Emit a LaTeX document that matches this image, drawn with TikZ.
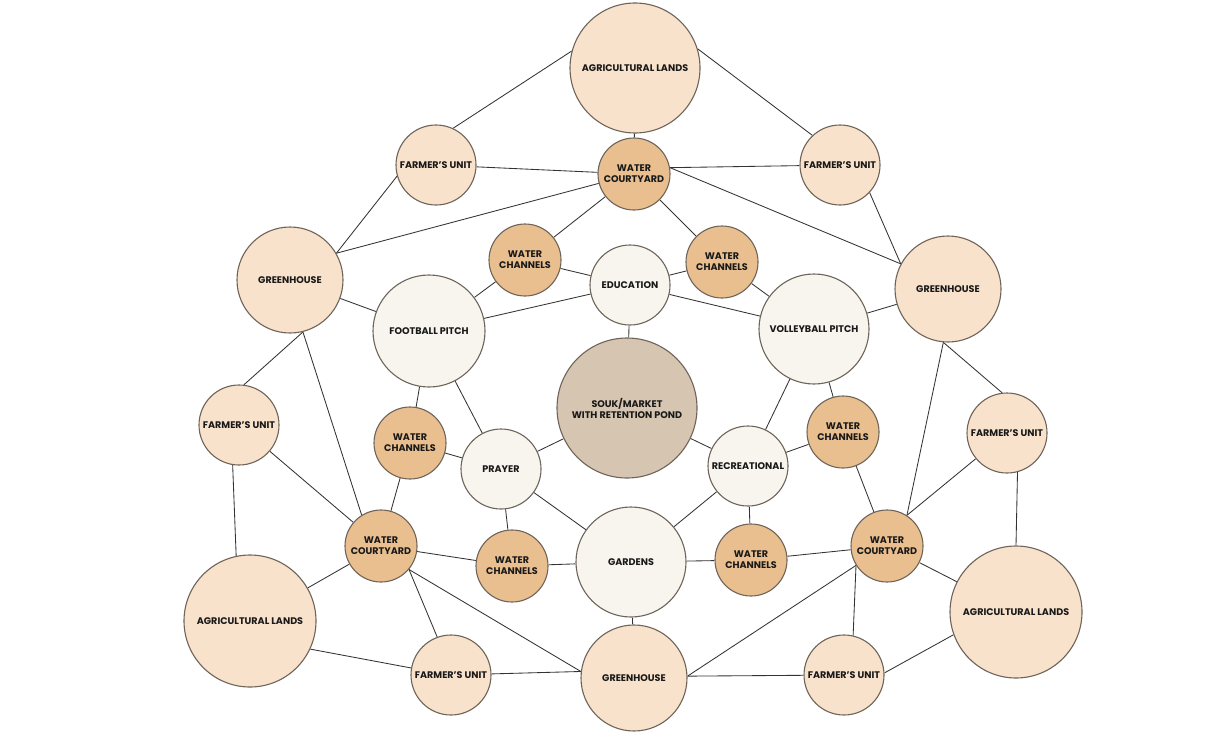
\documentclass[tikz,border=0pt]{standalone}
\usepackage{fontspec}
\setmainfont{Poppins}
\definecolor{peach}{HTML}{F8E2CB}
\definecolor{water}{HTML}{E9BF8F}
\definecolor{cream}{HTML}{F8F5EF}
\definecolor{souk}{HTML}{D6C5B1}
\definecolor{rim}{HTML}{6E645A}
\definecolor{edge}{HTML}{333333}
\pgfdeclarelayer{bg}
\pgfsetlayers{bg,main}
\begin{document}
\begin{tikzpicture}[x=1pt,y=-1pt,
  base/.style={circle,draw=rim,line width=1.1pt,inner sep=0pt,align=center,
    font=\fontsize{9.6}{11}\selectfont\bfseries,text=black!90},
  pe/.style={base,fill=peach,minimum size=#1*2pt},
  wa/.style={base,fill=water,minimum size=72pt},
  cr/.style={base,fill=cream,minimum size=#1*2pt},
  so/.style={base,fill=souk,minimum size=140pt},
  link/.style={draw=edge,line width=0.85pt}]
\useasboundingbox (0,0) rectangle (1214,741);
\node[pe=65] (agT) at (635,68) {AGRICULTURAL LANDS};
\node[pe=40] (fTL) at (436,165) {FARMER'S UNIT};
\node[wa] (wcT) at (634,174) {WATER\\COURTYARD};
\node[pe=40] (fTR) at (840,165) {FARMER'S UNIT};
\node[pe=53] (gL) at (290,280) {GREENHOUSE};
\node[wa] (chTL) at (525,260) {WATER\\CHANNELS};
\node[cr=40] (ed) at (630,285) {EDUCATION};
\node[wa] (chTR) at (722,262) {WATER\\CHANNELS};
\node[pe=53] (gR) at (948,289) {GREENHOUSE};
\node[cr=56] (fb) at (429,331) {FOOTBALL PITCH};
\node[cr=55] (vb) at (814,329) {VOLLEYBALL PITCH};
\node[so] (sk) at (627,408) {SOUK/MARKET\\WITH RETENTION POND};
\node[pe=40] (fL) at (239,425) {FARMER'S UNIT};
\node[wa] (chL) at (410,443) {WATER\\CHANNELS};
\node[cr=40] (pr) at (501,469) {PRAYER};
\node[cr=40] (rc) at (748,466) {RECREATIONAL};
\node[wa] (chR) at (843,432) {WATER\\CHANNELS};
\node[pe=40] (fR) at (1007,433) {FARMER'S UNIT};
\node[wa] (wcL) at (381,546) {WATER\\COURTYARD};
\node[wa] (chBL) at (512,566) {WATER\\CHANNELS};
\node[cr=55] (gd) at (631,562) {GARDENS};
\node[wa] (chBR) at (751,560) {WATER\\CHANNELS};
\node[wa] (wcR) at (887,546) {WATER\\COURTYARD};
\node[pe=66] (agL) at (250,621) {AGRICULTURAL LANDS};
\node[pe=66] (agR) at (1016,612) {AGRICULTURAL LANDS};
\node[pe=40] (fBL) at (451,675) {FARMER'S UNIT};
\node[pe=53] (gB) at (634,678) {GREENHOUSE};
\node[pe=40] (fBR) at (844,675) {FARMER'S UNIT};
\begin{pgfonlayer}{bg}
\foreach \a/\b in {agT/wcT,fTL/wcT,wcT/chTL,wcT/chTR,chTL/ed,chTR/ed,chTL/fb,chTR/vb,
  ed/fb,ed/vb,ed/sk,gL/fb,gR/vb,fb/pr,vb/rc,sk/pr,sk/rc,pr/chL,pr/chBL,pr/gd,
  rc/chR,rc/chBR,rc/gd,chL/wcL,chR/wcR,fL/wcL,wcL/chBL,wcR/chBR,gd/chBL,gd/chBR,
  gd/gB,wcL/agL,wcR/agR,fb/chL,vb/chR}
  \draw[link] (\a) -- (\b);
\foreach \a/\b in {agT.165/fTL.65,agT.17/fTR.133,gL.30/fTL.196,gL.30/wcT,
  gL.-76/fL.83,gL.-76/wcL.122,gR.152/fTR.-43,gR.152/wcT.10,wcT.10/fTR,
  gR.-95/fR.97,gR.-95/wcR.57,wcR.57/fR,fL.-99/agL.102,fR.-75/agR.90,
  wcR.212/fBR.77,wcR.212/gB.2,gB.2/fBR,wcL.-40/fBL.110,wcL.-40/gB.173,
  fBL/gB.173,agL.-25/fBL.170,fBR.3/agR.200}
  \draw[link] (\a) -- (\b);
\end{pgfonlayer}
\end{tikzpicture}
\end{document}
